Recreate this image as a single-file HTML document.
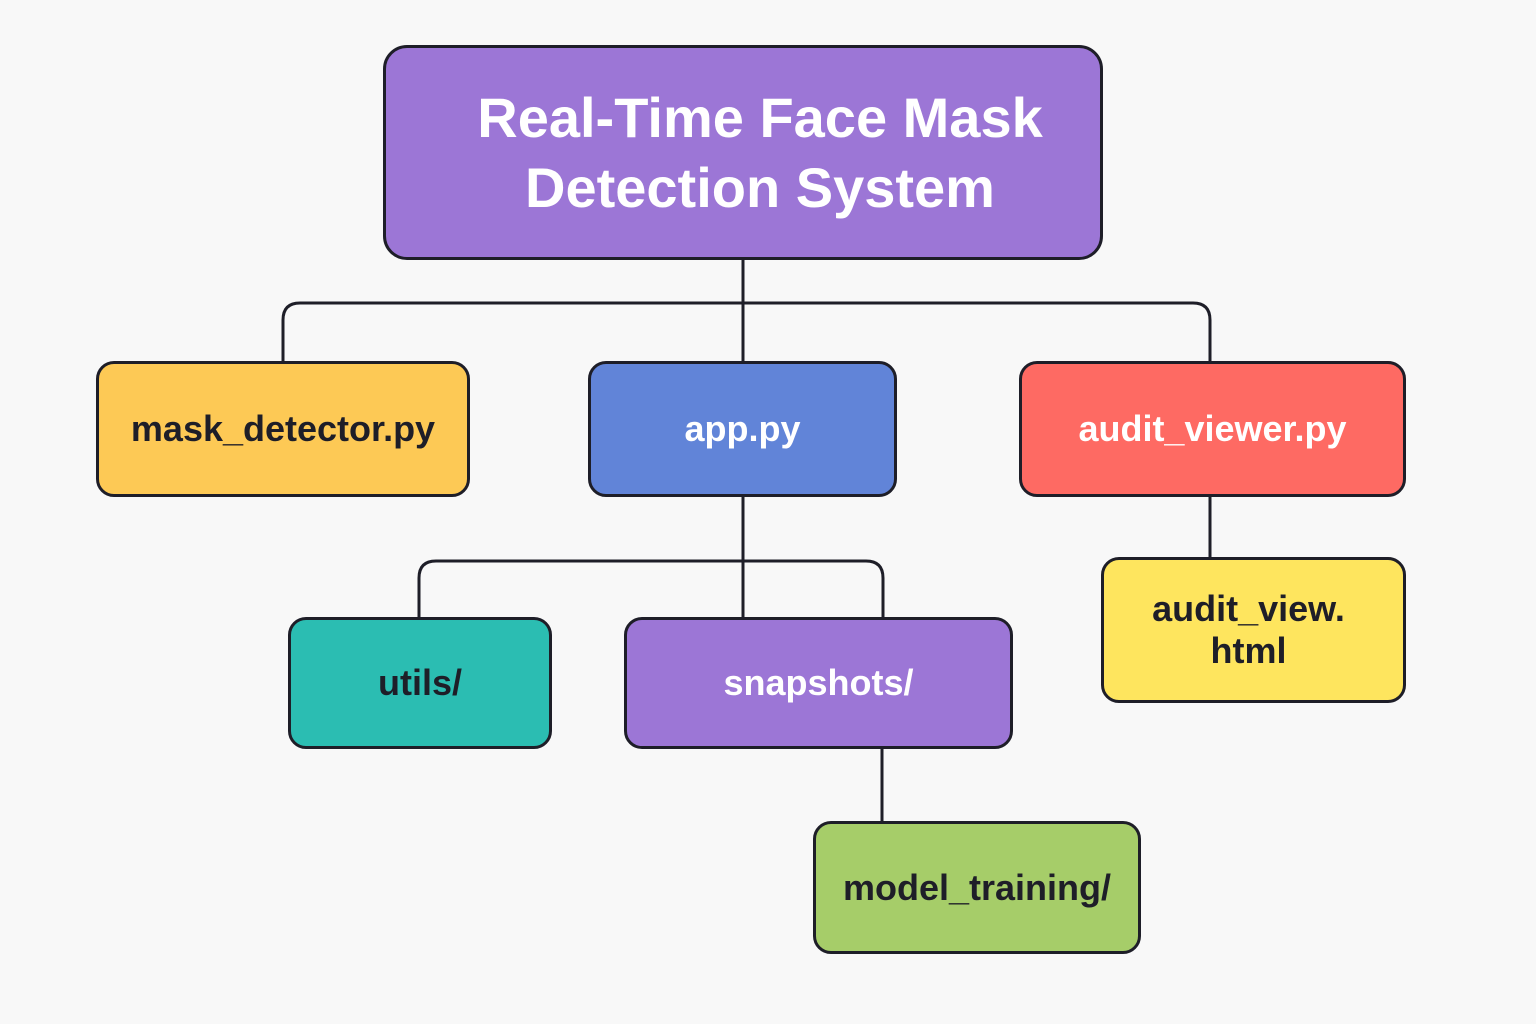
<!DOCTYPE html>
<html><head><meta charset="utf-8"><style>
html,body{margin:0;padding:0;background:#f8f8f8;}
body{width:1536px;height:1024px;position:relative;overflow:hidden;font-family:"Liberation Sans","DejaVu Sans",sans-serif;}
.b{position:absolute;box-sizing:border-box;border:3px solid #1e1e28;border-radius:18px;display:flex;align-items:center;justify-content:center;text-align:center;font-size:36px;color:#1e1e28;font-weight:bold;}
.w{color:#fff;}
svg{position:absolute;left:0;top:0;}
</style></head><body>
<svg width="1536" height="1024" fill="none" stroke="#1e1e28" stroke-width="3">
<path d="M743 258 V362"/>
<path d="M283 362 V320 Q283 303 300 303 H1193 Q1210 303 1210 320 V362"/>
<path d="M743 495 V618"/>
<path d="M419 618 V578 Q419 561 436 561 H866 Q883 561 883 578 V618"/>
<path d="M1210 495 V558"/>
<path d="M882 748 V822"/>
</svg>
<div class="b w" style="left:383px;top:45px;width:720px;height:215px;background:#9c76d6;border-radius:24px;font-size:56px;line-height:70px;padding-left:34px;">Real-Time Face Mask<br>Detection System</div>
<div class="b" style="left:96px;top:361px;width:374px;height:136px;background:#fdc955;">mask_detector.py</div>
<div class="b w" style="left:588px;top:361px;width:309px;height:136px;background:#6184d8;">app.py</div>
<div class="b w" style="left:1019px;top:361px;width:387px;height:136px;background:#fe6a63;">audit_viewer.py</div>
<div class="b" style="left:288px;top:617px;width:264px;height:132px;background:#2bbdb2;">utils/</div>
<div class="b w" style="left:624px;top:617px;width:389px;height:132px;background:#9c76d6;">snapshots/</div>
<div class="b" style="left:1101px;top:557px;width:305px;height:146px;background:#fee55e;line-height:42px;padding-right:10px;">audit_view.<br>html</div>
<div class="b" style="left:813px;top:821px;width:328px;height:133px;background:#a6cd69;">model_training/</div>
</body></html>
